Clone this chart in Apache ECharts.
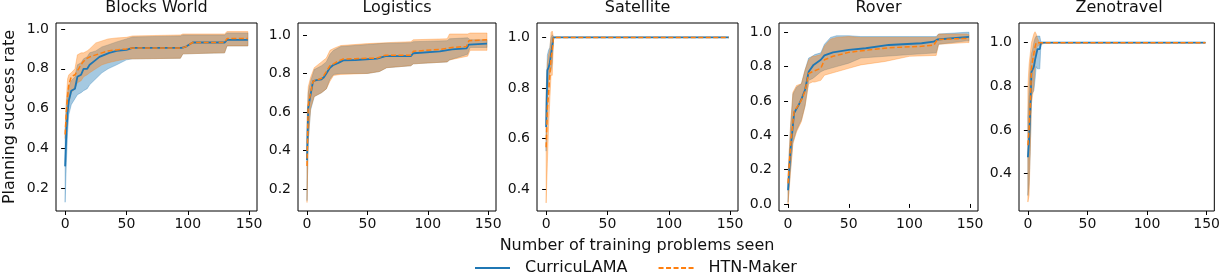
<!DOCTYPE html>
<html>
<head>
<meta charset="utf-8">
<script src="https://cdn.jsdelivr.net/npm/echarts@6/dist/echarts.min.js"></script>
<style>html,body{margin:0;padding:0;background:#fff}#c{width:1223px;height:277px}</style>
</head>
<body>
<div id="c"></div>
<script>
// ---------------- data ----------------
const panelTitles = ['Blocks World', 'Logistics', 'Satellite', 'Rover', 'Zenotravel'];
const xTicks = [0, 50, 100, 150];
const yTicksBW = [0.2, 0.4, 0.6, 0.8, 1.0];
const yTicksLG = [0.2, 0.4, 0.6, 0.8, 1.0];
const yTicksST = [0.4, 0.6, 0.8, 1.0];
const yTicksRV = [0.0, 0.2, 0.4, 0.6, 0.8, 1.0];
const yTicksZN = [0.4, 0.6, 0.8, 1.0];
const seriesNames = ['CurricuLAMA', 'HTN-Maker'];

// Blocks World
const bwX_c = [0,1,2,3,5,8,10,13,15,18,20,24,28,32,36,42,50,55,95,98,104,130,132,149];
const bwY_c = [0.31,0.48,0.58,0.64,0.69,0.70,0.76,0.77,0.80,0.80,0.82,0.84,0.86,0.87,0.88,0.89,0.895,0.905,0.905,0.91,0.932,0.932,0.945,0.945];
const bwX_h = [0,1,2,3,5,8,11,14,17,20,25,30,35,42,50,55,95,98,104,130,132,149];
const bwY_h = [0.47,0.58,0.66,0.72,0.76,0.77,0.80,0.83,0.85,0.86,0.87,0.88,0.89,0.895,0.90,0.905,0.905,0.91,0.932,0.932,0.952,0.952];
const bwBX = [0,1,2,3,5,8,10,13,15,18,20,25,30,35,42,50,55,94,96,130,132,149];
const bwLo_c = [0.13,0.33,0.48,0.57,0.62,0.65,0.67,0.68,0.69,0.70,0.72,0.75,0.78,0.80,0.82,0.845,0.85,0.853,0.875,0.88,0.915,0.915];
const bwHi_c = [0.48,0.62,0.68,0.71,0.74,0.76,0.82,0.83,0.85,0.86,0.88,0.89,0.91,0.92,0.935,0.95,0.96,0.965,0.97,0.97,0.98,0.98];
const bwLo_h = [0.45,0.52,0.58,0.63,0.68,0.70,0.73,0.74,0.76,0.77,0.78,0.80,0.82,0.83,0.84,0.85,0.85,0.853,0.875,0.88,0.915,0.915];
const bwHi_h = [0.50,0.65,0.75,0.77,0.78,0.80,0.87,0.88,0.88,0.89,0.90,0.93,0.94,0.95,0.955,0.958,0.965,0.97,0.975,0.975,0.987,0.987];

// Logistics
const lgX_c = [0,1,3,5,8,12,14,16,19,22,26,30,40,58,65,86,88,110,120,132,134,149];
const lgY_c = [0.35,0.62,0.69,0.76,0.765,0.77,0.78,0.80,0.83,0.845,0.855,0.868,0.87,0.877,0.89,0.89,0.905,0.915,0.925,0.93,0.95,0.955];
const lgX_h = [0,1,3,5,8,12,14,16,19,22,26,30,40,58,65,86,88,110,120,132,134,149];
const lgY_h = [0.32,0.63,0.70,0.76,0.765,0.775,0.79,0.81,0.84,0.85,0.865,0.875,0.877,0.88,0.895,0.895,0.915,0.925,0.935,0.94,0.97,0.975];
const lgBX = [0,1,3,6,12,16,19,22,28,50,60,66,86,88,116,118,133,135,149];
const lgLo_c = [0.14,0.45,0.61,0.68,0.70,0.72,0.77,0.795,0.80,0.80,0.81,0.83,0.84,0.85,0.86,0.87,0.90,0.935,0.935];
const lgHi_c = [0.50,0.70,0.76,0.82,0.84,0.86,0.90,0.92,0.94,0.95,0.955,0.957,0.96,0.965,0.97,0.98,0.985,0.975,0.975];
const lgLo_h = [0.13,0.45,0.62,0.68,0.70,0.72,0.76,0.79,0.795,0.80,0.81,0.83,0.84,0.85,0.86,0.87,0.89,0.92,0.92];
const lgHi_h = [0.55,0.73,0.78,0.83,0.86,0.88,0.92,0.93,0.945,0.955,0.958,0.96,0.965,0.975,0.98,1.005,1.005,1.01,1.01];

// Satellite
const stX_c = [0,1,2,3,4,5,6,27,28,29,149];
const stY_c = [0.645,0.87,0.88,0.90,0.935,0.94,1.0,1.0,0.995,1.0,1.0];
const stX_h = [0,1,2,3,4,5,6,86,87,88,149];
const stY_h = [0.565,0.72,0.78,0.85,0.92,0.95,1.0,1.0,0.995,1.0,1.0];
const stBX = [0,1,2,3,4,5,6,149];
const stLo_c = [0.55,0.78,0.82,0.86,0.87,0.90,1.0,1.0];
const stHi_c = [0.75,0.93,0.95,0.96,1.0,1.01,1.0,1.0];
const stLo_h = [0.345,0.50,0.65,0.75,0.85,0.85,1.0,1.0];
const stHi_h = [0.80,0.90,0.93,0.95,1.02,1.025,1.0,1.0];

// Rover
const rvX_c = [0,2,5,9,11,14,17,21,27,30,37,50,64,83,110,120,123,149];
const rvY_c = [0.08,0.31,0.53,0.58,0.61,0.665,0.77,0.81,0.84,0.865,0.883,0.897,0.907,0.926,0.936,0.945,0.958,0.973];
const rvX_h = [0,2,5,9,12,14,17,20,27,30,37,50,64,83,110,120,123,149];
const rvY_h = [0.12,0.33,0.54,0.58,0.62,0.66,0.76,0.77,0.79,0.84,0.86,0.883,0.895,0.91,0.918,0.925,0.958,0.965];
const rvBX = [0,2,4,7,11,14,17,20,22,27,30,35,40,50,60,80,100,122,124,147,149];
const rvLo_c = [0.01,0.20,0.36,0.43,0.49,0.57,0.72,0.73,0.74,0.77,0.78,0.79,0.80,0.82,0.85,0.86,0.87,0.88,0.93,0.95,0.95];
const rvHi_c = [0.15,0.44,0.64,0.68,0.70,0.78,0.85,0.86,0.87,0.88,0.93,0.97,0.98,0.98,0.975,0.975,0.975,0.975,0.99,1.0,1.0];
const rvLo_h = [0.0,0.18,0.35,0.42,0.48,0.57,0.70,0.71,0.71,0.72,0.75,0.76,0.77,0.79,0.81,0.83,0.86,0.865,0.93,0.94,0.94];
const rvHi_h = [0.17,0.45,0.65,0.69,0.70,0.78,0.84,0.86,0.86,0.87,0.92,0.96,0.97,0.975,0.97,0.97,0.97,0.97,0.99,0.99,0.985];

// Zenotravel
const znX_c = [0,1,2,3,4,5,6,8,10,11,56,57,58,149];
const znY_c = [0.475,0.55,0.69,0.865,0.87,0.89,0.92,0.97,0.97,1.0,1.0,0.995,1.0,1.0];
const znX_h = [0,1,2,3,4,5,6,7,149];
const znY_h = [0.53,0.60,0.72,0.88,0.92,0.95,0.98,1.0,1.0];
const znBX = [0,1,2,3,4,5,6,7,8,10,11,15,149];
const znLo_c = [0.30,0.35,0.50,0.76,0.77,0.78,0.83,0.89,0.88,0.88,1.0,1.0,1.0];
const znHi_c = [0.66,0.78,0.90,0.95,0.97,1.0,1.02,1.03,1.03,1.03,1.0,1.0,1.0];
const znLo_h = [0.27,0.30,0.50,0.72,0.76,0.80,0.90,0.97,0.985,0.99,0.99,1.0,1.0];
const znHi_h = [0.80,0.90,0.95,1.0,1.02,1.04,1.05,1.04,1.02,1.0,1.0,1.0,1.0];

// ---------------- layout / style ----------------
const panels = [
  {xc: bwX_c, yc: bwY_c, xh: bwX_h, yh: bwY_h, bx: bwBX, loC: bwLo_c, hiC: bwHi_c, loH: bwLo_h, hiH: bwHi_h, ticks: yTicksBW},
  {xc: lgX_c, yc: lgY_c, xh: lgX_h, yh: lgY_h, bx: lgBX, loC: lgLo_c, hiC: lgHi_c, loH: lgLo_h, hiH: lgHi_h, ticks: yTicksLG},
  {xc: stX_c, yc: stY_c, xh: stX_h, yh: stY_h, bx: stBX, loC: stLo_c, hiC: stHi_c, loH: stLo_h, hiH: stHi_h, ticks: yTicksST},
  {xc: rvX_c, yc: rvY_c, xh: rvX_h, yh: rvY_h, bx: rvBX, loC: rvLo_c, hiC: rvHi_c, loH: rvLo_h, hiH: rvHi_h, ticks: yTicksRV},
  {xc: znX_c, yc: znY_c, xh: znX_h, yh: znY_h, bx: znBX, loC: znLo_c, hiC: znHi_c, loH: znLo_h, hiH: znHi_h, ticks: yTicksZN}
];
const layout = [
  {left: 56, width: 201, yMin: 0.086, yMax: 1.03},
  {left: 298, width: 198, yMin: 0.086, yMax: 1.062},
  {left: 537, width: 201, yMin: 0.313, yMax: 1.057},
  {left: 779, width: 199, yMin: -0.041, yMax: 1.054},
  {left: 1019, width: 200, yMin: 0.229, yMax: 1.09}
];
const TOP = 23, H = 188;
const XMIN = -7.45, XMAX = 156.45;
const BLUE = '#1f77b4', ORANGE = '#ff7f0e';
const FONT = 'DejaVu Sans';
const BAND_OPACITY = 0.4;

const zip = (xs, ys) => xs.map((x, i) => [x, ys[i]]);

function bandSeries(i, xs, lo, hi, col) {
  // one polygon per band: upper edge left->right, lower edge right->left
  const data = xs.map((x, j) => [x, lo[j], hi[j]]);
  return {
    type: 'custom', xAxisIndex: i, yAxisIndex: i, silent: true, animation: false, z: 1,
    encode: {x: 0, y: [1, 2]},
    data: data,
    renderItem: function (params, api) {
      if (params.dataIndex !== 0) return null;
      const pts = [];
      for (let j = 0; j < data.length; j++) pts.push(api.coord([data[j][0], data[j][2]]));
      for (let j = data.length - 1; j >= 0; j--) pts.push(api.coord([data[j][0], data[j][1]]));
      return {type: 'polygon', shape: {points: pts},
        style: {fill: col, stroke: col, lineWidth: 0.8, opacity: BAND_OPACITY}};
    }
  };
}

const grids = [], xAxes = [], yAxes = [], series = [], titles = [];
panels.forEach((p, i) => {
  const L = layout[i];
  grids.push({left: L.left, top: TOP, width: L.width, height: H, show: true,
    borderColor: '#000', borderWidth: 1, backgroundColor: 'transparent', containLabel: false});
  xAxes.push({type: 'value', gridIndex: i, min: XMIN, max: XMAX,
    axisLine: {show: false}, splitLine: {show: false},
    axisTick: {show: true, length: 4, customValues: xTicks, lineStyle: {color: '#000', width: 1}},
    axisLabel: {customValues: xTicks, margin: 6, fontFamily: FONT, fontSize: 14, color: '#111'}});
  yAxes.push({type: 'value', gridIndex: i, min: L.yMin, max: L.yMax,
    axisLine: {show: false}, splitLine: {show: false},
    axisTick: {show: true, length: 4, customValues: p.ticks, lineStyle: {color: '#000', width: 1}},
    axisLabel: {customValues: p.ticks, margin: 7, fontFamily: FONT, fontSize: 14, color: '#111',
      formatter: v => Number(v).toFixed(1)},
    name: i === 0 ? 'Planning success rate' : '',
    nameLocation: 'middle', nameGap: 38,
    nameTextStyle: {fontFamily: FONT, fontSize: 16, color: '#111'}});
  titles.push({text: panelTitles[i], left: L.left + L.width / 2, top: 0, padding: 0, textAlign: 'center',
    textStyle: {fontFamily: FONT, fontSize: 16, fontWeight: 'normal', color: '#111'}});

  series.push(bandSeries(i, p.bx, p.loC, p.hiC, BLUE));
  series.push(bandSeries(i, p.bx, p.loH, p.hiH, ORANGE));
  const common = {type: 'line', xAxisIndex: i, yAxisIndex: i, symbol: 'none', showSymbol: false,
    silent: true, animation: false};
  series.push(Object.assign({}, common, {name: seriesNames[0], data: zip(p.xc, p.yc), z: 3,
    itemStyle: {color: BLUE}, lineStyle: {color: BLUE, width: 1.8}}));
  series.push(Object.assign({}, common, {name: seriesNames[1], data: zip(p.xh, p.yh), z: 4,
    itemStyle: {color: ORANGE}, lineStyle: {color: ORANGE, width: 1.5, type: [5, 2.5]}}));
});

titles.push({text: 'Number of training problems seen', left: 637, top: 238, padding: 0, textAlign: 'center',
  textStyle: {fontFamily: FONT, fontSize: 16, fontWeight: 'normal', color: '#111'}});

const chart = echarts.init(document.getElementById('c'), null, {renderer: 'canvas'});
chart.setOption({
  animation: false,
  backgroundColor: '#fff',
  title: titles,
  grid: grids,
  xAxis: xAxes,
  yAxis: yAxes,
  legend: {data: seriesNames, left: 474, top: 260, padding: 0, itemWidth: 35, itemHeight: 16,
    itemGap: 30, itemStyle: {opacity: 0},
    textStyle: {fontFamily: FONT, fontSize: 16, color: '#111', padding: [0, 0, 0, 10]}},
  series: series
});
</script>
</body>
</html>
